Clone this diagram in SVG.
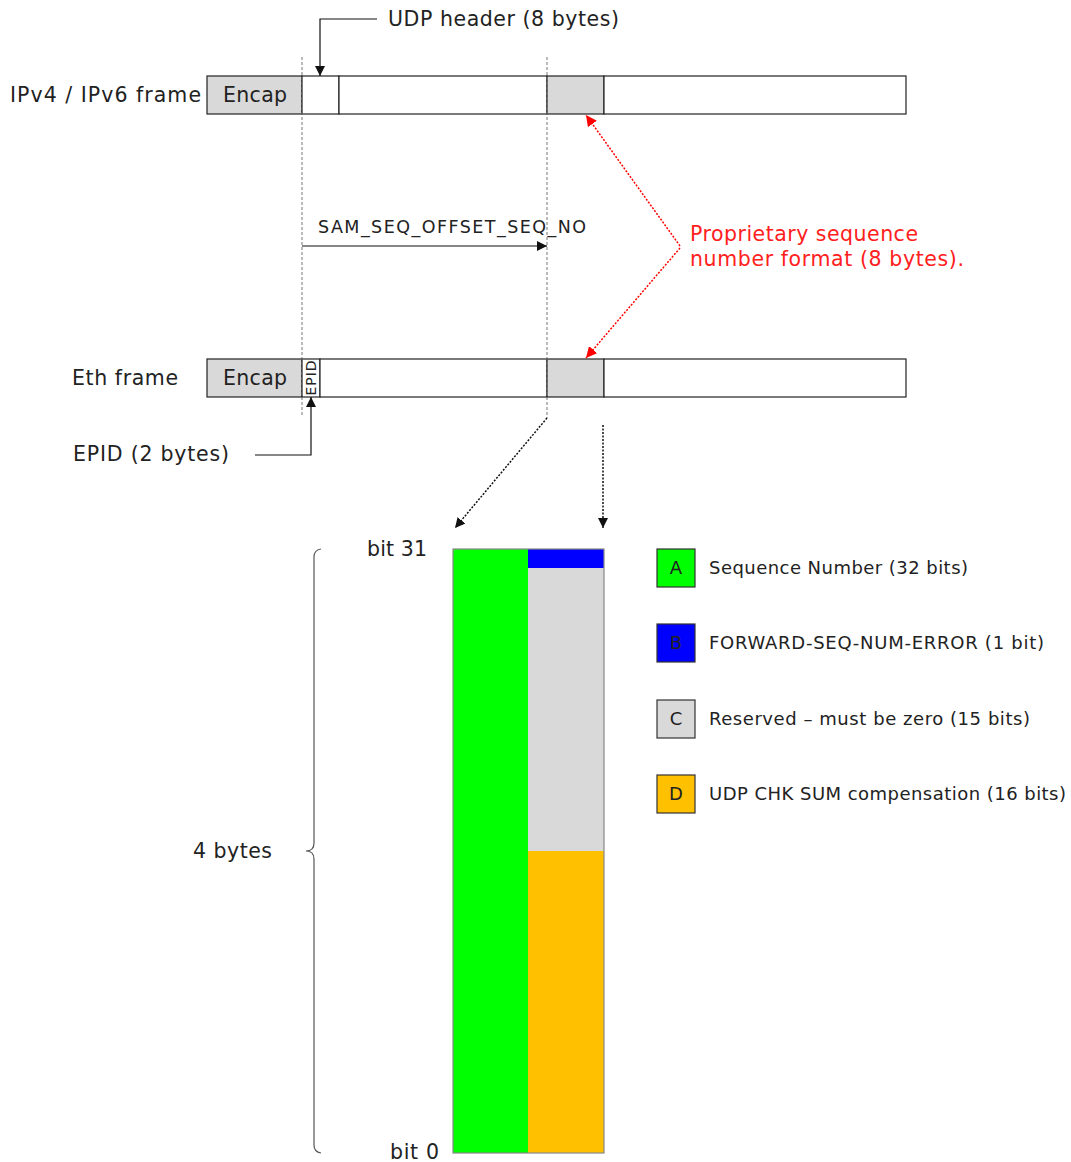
<svg xmlns="http://www.w3.org/2000/svg" width="1071" height="1162" viewBox="0 0 1071 1162">
<style>
text{font-family:"DejaVu Sans","Liberation Sans",sans-serif;fill:#222}
.lbl{font-size:20.5px}
.sm{font-size:17.5px}
.leg{font-size:18px}
.red{fill:#ff2020;font-size:20.5px}
.cell{stroke:#222;stroke-width:1.2}
.gray{fill:#d9d9d9}
.white{fill:#fff}
.guide{stroke:#777;stroke-width:1;stroke-dasharray:3,2;fill:none}
.conn{stroke:#111;stroke-width:1.2;fill:none}
.dot{stroke:#111;stroke-width:1.5;stroke-dasharray:2,1.5;fill:none}
.rdot{stroke:#f00;stroke-width:1.5;stroke-dasharray:2,1.5;fill:none}
</style>
<defs>
<marker id="ah" viewBox="0 0 10 10" refX="10" refY="5" markerWidth="10" markerHeight="10" markerUnits="userSpaceOnUse" orient="auto"><path d="M0,0 L10,5 L0,10 z" fill="#111"/></marker>
<marker id="ahr" viewBox="0 0 10 10" refX="10" refY="5" markerWidth="11" markerHeight="11" markerUnits="userSpaceOnUse" orient="auto"><path d="M0,0 L10,5 L0,10 z" fill="#f00"/></marker>
</defs>

<g id="ipv4-frame">
<text class="lbl" x="10" y="102" textLength="191">IPv4 / IPv6 frame</text>
<rect class="cell gray" x="207" y="76" width="95" height="38"/>
<text class="lbl" x="223" y="102" textLength="64">Encap</text>
<rect class="cell white" x="302" y="76" width="37" height="38"/>
<rect class="cell white" x="339" y="76" width="208" height="38"/>
<rect class="cell gray" x="547" y="76" width="57" height="38"/>
<rect class="cell white" x="604" y="76" width="302" height="38"/>
</g>

<g id="eth-frame">
<text class="lbl" x="72" y="385" textLength="106">Eth frame</text>
<rect class="cell gray" x="207" y="359" width="95" height="38"/>
<text class="lbl" x="223" y="385" textLength="64">Encap</text>
<rect class="cell white" x="302" y="359" width="18" height="38"/>
<text x="311" y="383" font-size="14" text-anchor="middle" textLength="35" transform="rotate(-90 311 378)">EPID</text>
<rect class="cell white" x="320" y="359" width="227" height="38"/>
<rect class="cell gray" x="547" y="359" width="57" height="38"/>
<rect class="cell white" x="604" y="359" width="302" height="38"/>
</g>

<g id="labels">
<text class="lbl" x="388" y="26" textLength="231">UDP header (8 bytes)</text>
<text class="lbl" x="73" y="461" textLength="156">EPID (2 bytes)</text>
<text class="sm" x="318" y="233" textLength="268">SAM_SEQ_OFFSET_SEQ_NO</text>
<text class="red" x="690" y="241" textLength="228">Proprietary sequence</text>
<text class="red" x="690" y="266" textLength="274">number format (8 bytes).</text>
<text class="lbl" x="367" y="556" textLength="60">bit 31</text>
<text class="lbl" x="390" y="1159" textLength="49">bit 0</text>
<text class="lbl" x="193" y="858" textLength="79">4 bytes</text>
</g>

<g id="bitfield">
<rect x="453" y="549" width="75" height="604" fill="#00ff00"/>
<rect x="528" y="549" width="76" height="19" fill="#0000ff"/>
<rect x="528" y="568" width="76" height="283" fill="#d9d9d9"/>
<rect x="528" y="851" width="76" height="302" fill="#ffc000"/>
<rect x="453" y="549" width="151" height="604" fill="none" stroke="#888" stroke-width="1.2"/>
<path d="M321,549 Q314,550 314,557 L314,843 Q314,851 306,851 Q314,851 314,859 L314,1145 Q314,1152 321,1153" fill="none" stroke="#555" stroke-width="1.2"/>
</g>

<g id="legend-a">
<rect x="657" y="549" width="38" height="38" fill="#00ff00" stroke="#333" stroke-width="1.2"/>
<text class="leg" x="676" y="574" text-anchor="middle">A</text>
<text class="leg" x="709" y="574" textLength="259">Sequence Number (32 bits)</text>
</g>
<g id="legend-b">
<rect x="657" y="624" width="38" height="38" fill="#0000ff" stroke="#333" stroke-width="1.2"/>
<text class="leg" x="676" y="649" text-anchor="middle">B</text>
<text class="leg" x="709" y="649" textLength="335">FORWARD-SEQ-NUM-ERROR (1 bit)</text>
</g>
<g id="legend-c">
<rect x="657" y="700" width="38" height="38" fill="#d9d9d9" stroke="#333" stroke-width="1.2"/>
<text class="leg" x="676" y="725" text-anchor="middle">C</text>
<text class="leg" x="709" y="725" textLength="321">Reserved – must be zero (15 bits)</text>
</g>
<g id="legend-d">
<rect x="657" y="775" width="38" height="38" fill="#ffc000" stroke="#333" stroke-width="1.2"/>
<text class="leg" x="676" y="800" text-anchor="middle">D</text>
<text class="leg" x="709" y="800" textLength="357">UDP CHK SUM compensation (16 bits)</text>
</g>

<g id="connectors">
<line class="guide" x1="302" y1="57" x2="302" y2="417"/>
<path class="guide" d="M547,57 L547,418"/>
<path class="conn" d="M377,19 L320,19 L320,76" marker-end="url(#ah)"/>
<path class="conn" d="M255,455 L311,455 L311,397" marker-end="url(#ah)"/>
<line class="conn" x1="302" y1="246" x2="547" y2="246" marker-end="url(#ah)"/>
<path class="rdot" d="M680,246 L586,115" marker-end="url(#ahr)"/>
<path class="rdot" d="M680,248 L586,358" marker-end="url(#ahr)"/>
<path class="dot" d="M547,418 L455,528" marker-end="url(#ah)"/>
<path class="dot" d="M603,425 L603,528" marker-end="url(#ah)"/>
</g>
</svg>
